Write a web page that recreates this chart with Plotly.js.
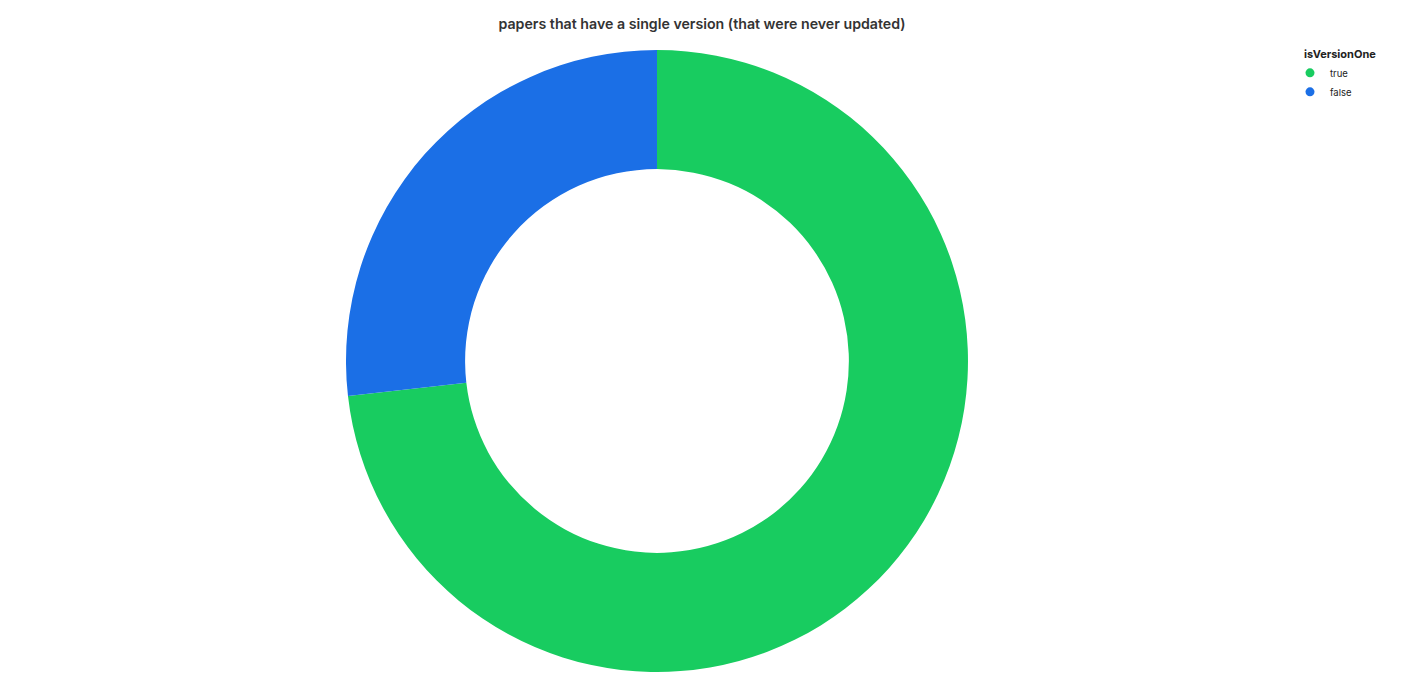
<!DOCTYPE html>
<html>
<head>
<meta charset="utf-8">
<script src="https://cdn.plot.ly/plotly-3.0.1.min.js"></script>
<style>html,body{margin:0;padding:0;background:#fff;}#chart{width:1410px;height:696px;}</style>
</head>
<body>
<div id="chart"></div>
<script>
const categories = ["true", "false"];
const values = [73.2, 26.8];
const colors = ["#18cc60", "#1b6fe6"];

const pieTrace = {
  type: "pie",
  labels: categories,
  values: values,
  marker: {colors: colors, line: {width: 0}},
  hole: 0.617,
  sort: false,
  direction: "clockwise",
  rotation: 0,
  textinfo: "none",
  showlegend: false,
  domain: {x: [0.2, 0.7319], y: [0, 1]}
};

const legendTraces = categories.map((c, i) => ({
  type: "scatter",
  mode: "markers",
  x: [null], y: [null],
  name: c,
  marker: {color: colors[i], size: 9, symbol: "circle"},
  showlegend: true
}));

const layout = {
  width: 1410, height: 696,
  margin: {l: 0, r: 0, t: 50, b: 24},
  paper_bgcolor: "#fff", plot_bgcolor: "#fff",
  font: {family: "Inter, 'Liberation Sans', sans-serif", color: "#222"},
  title: {text: "papers that have a single version (that were never updated)", x: 0.4979, xanchor: "center", y: 0.966, yanchor: "middle",
          font: {size: 14.2, color: "#333", weight: 600}},
  xaxis: {visible: false}, yaxis: {visible: false},
  legend: {x: 0.9234, xanchor: "left", y: 1.0096, yanchor: "top", indentation: -12,
           title: {text: "isVersionOne", font: {size: 11, weight: 700, color: "#222"}},
           font: {size: 9.5, color: "#222"}, itemwidth: 30, tracegroupgap: 0}
};

Plotly.newPlot("chart", [pieTrace, ...legendTraces], layout, {displayModeBar: false});
</script>
</body>
</html>
